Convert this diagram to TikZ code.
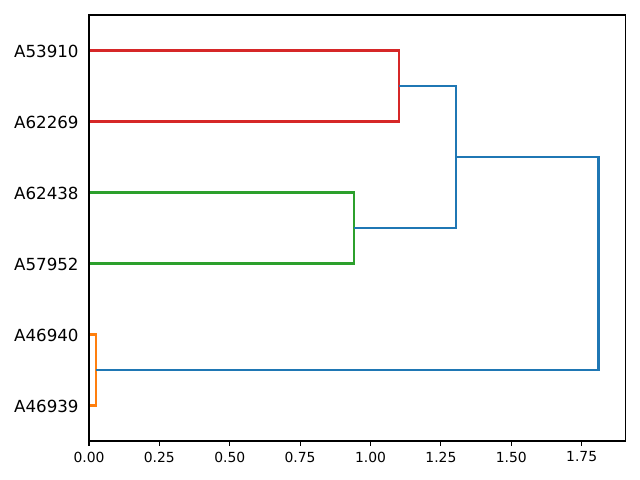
\documentclass[tikz,border=0pt]{standalone}
\usepackage{fontspec}
\setmainfont{DejaVu Sans}
\definecolor{cblue}{HTML}{1F77B4}
\definecolor{corange}{HTML}{FF7F0E}
\definecolor{cgreen}{HTML}{2CA02C}
\definecolor{cred}{HTML}{D62728}
\begin{document}
\begin{tikzpicture}[x=0.72pt,y=0.72pt,
  link/.style={line width=1.5pt,line join=miter},
  spine/.style={line width=0.8pt,line cap=rect},
  xtick/.style={line width=0.8pt},
  xlab/.style={font=\fontsize{10}{12}\selectfont,anchor=north,inner sep=0pt},
  leaflab/.style={font=\fontsize{12}{14}\selectfont,anchor=east,inner sep=0pt}]
\useasboundingbox (0,0) rectangle (640,480);
\begin{scope}[shift={(89,39)},x=202.68pt,y=5.112pt]
  % leaves
  \coordinate (L1) at (0,55); \coordinate (L2) at (0,45);
  \coordinate (L3) at (0,35); \coordinate (L4) at (0,25);
  \coordinate (L5) at (0,15); \coordinate (L6) at (0,5);
  % merges
  \coordinate (R1) at (1.101,55); \coordinate (R2) at (1.101,45); \coordinate (Rm) at (1.101,50);
  \coordinate (G1) at (0.941,35); \coordinate (G2) at (0.941,25); \coordinate (Gm) at (0.941,30);
  \coordinate (O1) at (0.0249,15); \coordinate (O2) at (0.0249,5); \coordinate (Om) at (0.0249,10);
  \coordinate (B1) at (1.304,50); \coordinate (B2) at (1.304,30); \coordinate (Bm) at (1.304,40);
  \coordinate (C1) at (1.81,40); \coordinate (C2) at (1.81,10);
  \draw[link,cred] (L1) -- (R1) -- (R2) -- (L2);
  \draw[link,cgreen] (L3) -- (G1) -- (G2) -- (L4);
  \draw[link,corange] (L5) -- (O1) -- (O2) -- (L6);
  \draw[link,cblue] (Rm) -- (B1) -- (B2) -- (Gm);
  \draw[link,cblue] (Bm) -- (C1) -- (C2) -- (Om);
  % axes frame
  \draw[spine] (0,0) rectangle (1.906,60);
  % x ticks
  \foreach \v/\t in {0/0.00,0.25/0.25,0.5/0.50,0.75/0.75,1/1.00,1.25/1.25,1.5/1.50,1.75/1.75}{
    \draw[xtick] (\v,0) -- ++(0,-3.5pt);
    \node[xlab] (xt\v) at ([yshift=-7.5pt]\v,0) {\t};
  }
  % leaf labels
  \node[leaflab] (n1) at ([xshift=-7.3pt,yshift=-0.6pt]L1) {A53910};
  \node[leaflab] (n2) at ([xshift=-7.3pt,yshift=-0.6pt]L2) {A62269};
  \node[leaflab] (n3) at ([xshift=-7.3pt,yshift=-0.6pt]L3) {A62438};
  \node[leaflab] (n4) at ([xshift=-7.3pt,yshift=-0.6pt]L4) {A57952};
  \node[leaflab] (n5) at ([xshift=-7.3pt,yshift=-0.6pt]L5) {A46940};
  \node[leaflab] (n6) at ([xshift=-7.3pt,yshift=-0.6pt]L6) {A46939};
\end{scope}
\end{tikzpicture}
\end{document}
